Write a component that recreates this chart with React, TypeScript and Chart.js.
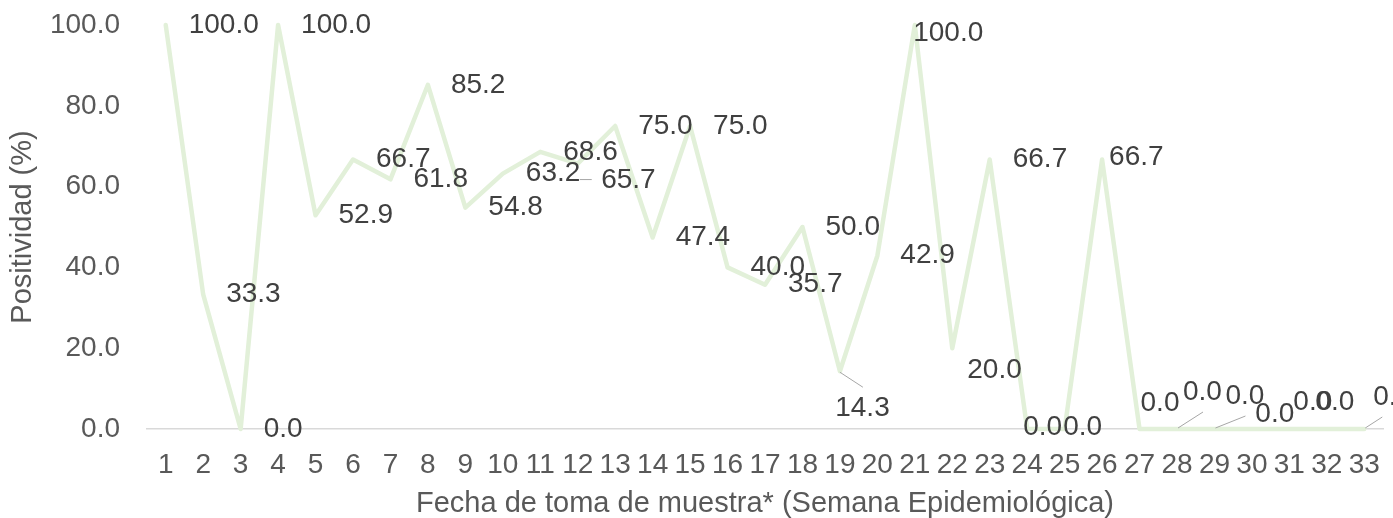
import React, { useEffect, useRef } from "react";
import { Chart, registerables } from "chart.js";

Chart.register(...registerables);

// ---- data ----
const weeks: string[] = [
  "1", "2", "3", "4", "5", "6", "7", "8", "9", "10", "11",
  "12", "13", "14", "15", "16", "17", "18", "19", "20", "21", "22",
  "23", "24", "25", "26", "27", "28", "29", "30", "31", "32", "33",
];

const positividad: number[] = [
  100.0, 33.3, 0.0, 100.0, 52.9, 66.7, 61.8, 85.2, 54.8, 63.2, 68.6,
  65.7, 75.0, 47.4, 75.0, 40.0, 35.7, 50.0, 14.3, 42.9, 100.0, 20.0,
  66.7, 0.0, 0.0, 66.7, 0.0, 0.0, 0.0, 0.0, 0.0, 0.0, 0.0,
];

const yMin = 0;
const yMax = 100;
const yStep = 20;

const xTitle = "Fecha de toma de muestra* (Semana Epidemiológica)";
const yTitle = "Positividad (%)";

// ---- label placement (pixel offsets from each point: left edge dx, vertical centre dy) ----
const defaultLabelOffset: [number, number] = [23, 0];
const labelOffsets: Record<number, [number, number]> = {
  11: [23.4, 16.4],
  18: [-4.7, 37],
  20: [-1.6, 8],
  21: [15, 22],
  23: [-4, -2],
  24: [-1.4, -2],
  25: [7, -2.5],
  26: [1, -26],
  27: [6, -37],
  28: [11, -33],
  29: [3.4, -15],
  30: [4, -27],
  31: [-11.5, -27],
  32: [9, -32],
};
// leader lines: [pointIndex, dx1, dy1, dx2, dy2]
const leaderLines: [number, number, number, number, number][] = [
  [11, 2, 16, 14, 16],
  [18, 0, 1, 23, 16],
  [27, 1, -1, 26, -17],
  [28, 1, -1, 31, -13],
  [32, 1, -1, 18, -12],
];

const FONT = '"Liberation Sans", Arial, Helvetica, sans-serif';

const labelPlugin = {
  id: "pointValueLabels",
  afterDatasetsDraw(chart: any) {
    const ctx = chart.ctx as CanvasRenderingContext2D;
    const meta = chart.getDatasetMeta(0);
    ctx.save();
    ctx.strokeStyle = "#a6a6a6";
    ctx.lineWidth = 1;
    leaderLines.forEach(([i, x1, y1, x2, y2]) => {
      const p = meta.data[i];
      if (!p) return;
      ctx.beginPath();
      ctx.moveTo(p.x + x1, p.y + y1);
      ctx.lineTo(p.x + x2, p.y + y2);
      ctx.stroke();
    });
    ctx.font = `28px ${FONT}`;
    ctx.fillStyle = "#404040";
    ctx.textAlign = "left";
    ctx.textBaseline = "middle";
    meta.data.forEach((p: any, i: number) => {
      const [dx, dy] = labelOffsets[i] ?? defaultLabelOffset;
      ctx.fillText(positividad[i].toFixed(1), p.x + dx, p.y + dy);
    });
    ctx.restore();
  },
};

export default function App() {
  const canvasRef = useRef<HTMLCanvasElement | null>(null);

  useEffect(() => {
    if (!canvasRef.current) return;
    const chart = new Chart(canvasRef.current, {
      type: "line",
      data: {
        labels: weeks,
        datasets: [
          {
            label: "Positividad",
            data: positividad,
            borderColor: "#E2F0D9",
            backgroundColor: "#E2F0D9",
            borderWidth: 4.5,
            borderJoinStyle: "round",
            borderCapStyle: "round",
            pointRadius: 0,
            pointHoverRadius: 0,
            tension: 0,
            fill: false,
            clip: false,
          } as any,
        ],
      },
      options: {
        animation: false,
        responsive: false,
        devicePixelRatio: 1,
        layout: { padding: { top: 25, right: 10, left: 0, bottom: 0 } },
        plugins: {
          legend: { display: false },
          tooltip: { enabled: false },
        },
        scales: {
          x: {
            type: "category",
            offset: true,
            grid: { display: false, drawTicks: false },
            border: { display: true, color: "#d9d9d9", width: 1.5 },
            ticks: {
              color: "#595959",
              font: { family: FONT, size: 28 },
              padding: 19,
              maxRotation: 0,
              autoSkip: false,
            },
            title: {
              display: true,
              text: xTitle,
              color: "#595959",
              font: { family: FONT, size: 29 },
              padding: { top: 0, bottom: -3.4 },
            },
            afterFit: (scale: any) => {
              scale.height = 89;
              scale.paddingLeft = 0;
              scale.paddingRight = 0;
            },
          },
          y: {
            min: yMin,
            max: yMax,
            grid: { display: false, drawTicks: false },
            border: { display: false },
            ticks: {
              stepSize: yStep,
              color: "#595959",
              font: { family: FONT, size: 28 },
              padding: 27,
              callback: (v: any) => Number(v).toFixed(1),
            },
            title: {
              display: true,
              text: yTitle,
              color: "#595959",
              font: { family: FONT, size: 29 },
              padding: { top: 6, bottom: 0 },
            },
            afterFit: (scale: any) => {
              scale.width = 147;
              scale.paddingTop = 0;
              scale.paddingBottom = 0;
            },
          },
        },
      },
      plugins: [labelPlugin],
    });
    return () => chart.destroy();
  }, []);

  return (
    <div
      style={{
        position: "fixed",
        left: 0,
        top: 0,
        width: 1393,
        height: 518,
        background: "#ffffff",
        overflow: "hidden",
      }}
    >
      <canvas
        ref={canvasRef}
        width={1393}
        height={518}
        style={{ width: 1393, height: 518, display: "block" }}
      />
    </div>
  );
}
